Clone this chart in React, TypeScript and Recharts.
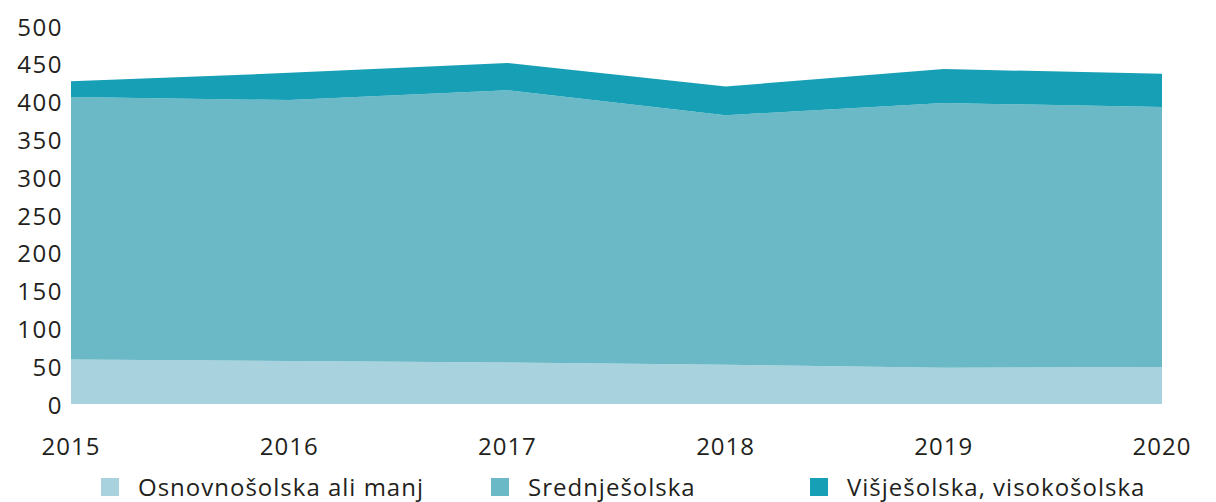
import React from "react";
import { AreaChart, Area, XAxis, YAxis, Legend } from "recharts";

const years = ["2015", "2016", "2017", "2018", "2019", "2020"];
const osnovno = [59, 57, 55, 52, 48, 49];
const srednje = [347, 345, 360, 330, 350, 344];
const visje = [21, 36, 36, 38, 45, 44];
const yTicks = [0, 50, 100, 150, 200, 250, 300, 350, 400, 450, 500];

const seriesNames = ["Osnovnošolska ali manj", "Srednješolska", "Višješolska, visokošolska"];
const seriesKeys = ["osn", "sred", "vis"];
const colors = ["#a7d2de", "#6bb9c6", "#179fb5"];

const data = years.map((y, i) => ({
  year: y,
  osn: osnovno[i],
  sred: srednje[i],
  vis: visje[i],
}));

const FONT = "'Open Sans', sans-serif";
const TEXT = "#231f20";

const YTick = (props: any) => {
  const { x, y, payload } = props;
  return (
    <text x={x - 2} y={y} textAnchor="end" dominantBaseline="central" fontFamily={FONT} fontWeight={500} letterSpacing={1.5} fontSize={24} fill={TEXT}>
      {payload.value}
    </text>
  );
};

const XTick = (props: any) => {
  const { x, y, payload } = props;
  return (
    <text x={x} y={y + 33} textAnchor="middle" dominantBaseline="central" fontFamily={FONT} fontWeight={500} letterSpacing={1} fontSize={24} fill={TEXT}>
      {payload.value}
    </text>
  );
};

const legendLefts = [101, 491, 810];

const LegendContent = () => (
  <div style={{ position: "relative", width: 1216, height: 38 }}>
    {seriesNames.map((n, i) => (
      <div key={n} style={{ position: "absolute", left: legendLefts[i], top: 14, display: "flex", alignItems: "center", whiteSpace: "nowrap" }}>
        <span style={{ display: "inline-block", width: 18, height: 18, background: colors[i] }} />
        <span style={{ marginLeft: 19, fontFamily: FONT, fontWeight: 500, fontSize: 24, letterSpacing: 1, color: TEXT, lineHeight: "18px" }}>{n}</span>
      </div>
    ))}
  </div>
);

export default function App() {
  return (
    <div style={{ position: "absolute", left: 0, top: 0 }}>
      <AreaChart width={1216} height={502} data={data} margin={{ top: 26, right: 54, left: 0, bottom: 0 }}>
        <XAxis dataKey="year" axisLine={false} tickLine={false} height={60} tick={<XTick />} interval={0} />
        <YAxis domain={[0, 500]} ticks={yTicks} width={71} axisLine={false} tickLine={false} tick={<YTick />} interval={0} tickMargin={0} />
        <Legend verticalAlign="bottom" height={38} content={<LegendContent />} wrapperStyle={{ left: 0, width: 1216 }} />
        {seriesKeys.map((k, i) => (
          <Area key={k} type="linear" dataKey={k} stackId="a" stroke="none" fill={colors[i]} fillOpacity={1} isAnimationActive={false} />
        ))}
      </AreaChart>
    </div>
  );
}
